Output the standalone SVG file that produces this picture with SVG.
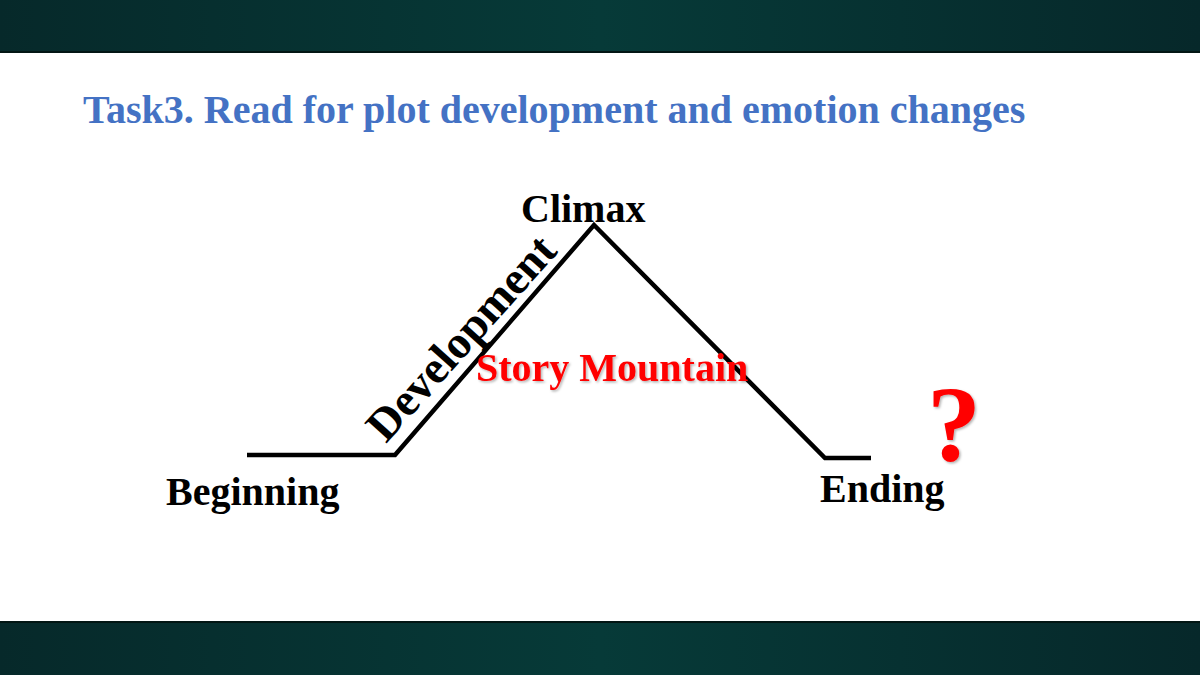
<svg xmlns="http://www.w3.org/2000/svg" width="1200" height="675" viewBox="0 0 1200 675">
<defs>
<linearGradient id="band" x1="0" y1="0" x2="1" y2="0">
<stop offset="0" stop-color="#06292a"/>
<stop offset="0.5" stop-color="#063a38"/>
<stop offset="1" stop-color="#06282a"/>
</linearGradient>
<filter id="sh" x="-10%" y="-10%" width="130%" height="140%">
<feDropShadow dx="1.5" dy="1.5" stdDeviation="1" flood-color="#000" flood-opacity="0.3"/>
</filter>
<style>
.lbl{font-family:"Liberation Serif","Times New Roman",serif;font-weight:bold;fill:#000;font-size:40px}
.dev{font-size:46px}
.red{font-family:"Liberation Serif","Times New Roman",serif;font-weight:bold;fill:#ff0000}
.ln{fill:none;stroke:#000;stroke-width:4.5;stroke-linejoin:miter}
</style>
</defs>
<rect width="1200" height="675" fill="#fff"/>
<rect x="0" y="0" width="1200" height="52" fill="url(#band)"/>
<rect x="0" y="51" width="1200" height="2" fill="#021614"/>
<rect x="0" y="622" width="1200" height="53" fill="url(#band)"/>
<rect x="0" y="621" width="1200" height="2" fill="#021614"/>
<text id="title" x="83" y="123" font-family="Liberation Serif, Times New Roman, serif" font-weight="bold" font-size="40" fill="#4472c4">Task3. Read for plot development and emotion changes</text>
<g id="connectors">
<polyline class="ln" points="247,455 395,455 594,225 825,458 871,458"/>
</g>
<g id="climax"><text class="lbl" x="521" y="222">Climax</text></g>
<g id="beginning"><text class="lbl" x="166" y="505">Beginning</text></g>
<g id="ending"><text class="lbl" x="820" y="502">Ending</text></g>
<g id="development"><text class="lbl dev" transform="translate(386,444) rotate(-48)" x="0" y="0">Development</text></g>
<g id="story"><text class="red" x="476" y="381" font-size="40" filter="url(#sh)">Story Mountain</text></g>
<g id="question"><text class="red" x="927" y="460" font-size="108" filter="url(#sh)">?</text></g>
</svg>
